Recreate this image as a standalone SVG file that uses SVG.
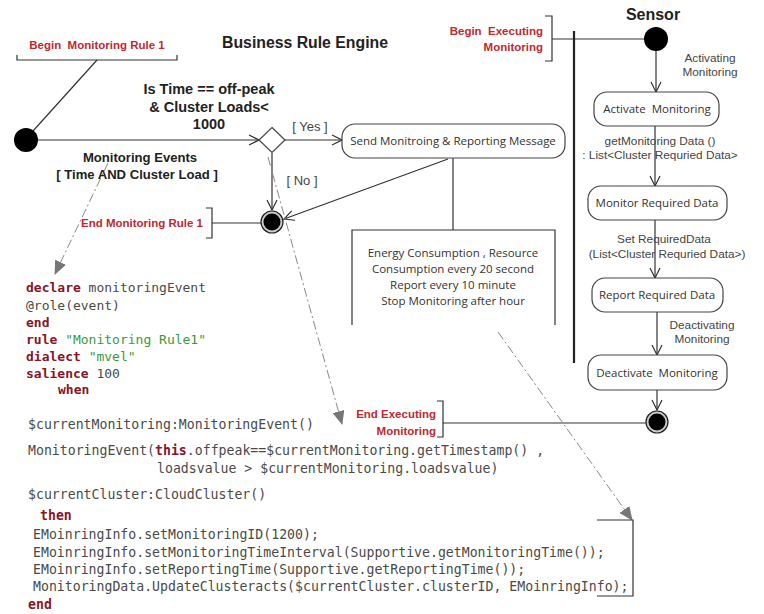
<svg xmlns="http://www.w3.org/2000/svg" width="764" height="614" viewBox="0 0 764 614">
<defs>
<marker id="vee" viewBox="0 0 12 12" refX="11" refY="6" markerWidth="12" markerHeight="12" markerUnits="userSpaceOnUse" orient="auto">
<path d="M1,1 L11,6 L1,11" fill="none" stroke="#333" stroke-width="1.2"/>
</marker>
<marker id="tri" viewBox="0 0 14 12" refX="13" refY="6" markerWidth="14" markerHeight="12" markerUnits="userSpaceOnUse" orient="auto">
<path d="M0,0 L14,6 L0,12 Z" fill="#777"/>
</marker>
</defs>
<style>
.ln{stroke:#333;stroke-width:1.2;fill:none}
.ar{stroke:#333;stroke-width:1.2;fill:none;marker-end:url(#vee)}
.dd{stroke:#888;stroke-width:1;fill:none;stroke-dasharray:9 3 2 3;marker-end:url(#tri)}
.box{fill:#fff;stroke:#444;stroke-width:1.2}
.red{font-family:"Liberation Sans",Arial,sans-serif;font-weight:bold;font-size:11.5px;fill:#c3272f;white-space:pre}
.bt{font-family:"Liberation Sans",Arial,sans-serif;font-weight:bold;font-size:14.5px;fill:#222;text-anchor:middle}
.gl{font-family:"Liberation Sans",Arial,sans-serif;font-size:11.8px;fill:#444;text-anchor:middle}
.nt{font-family:"Open Sans","Liberation Sans",sans-serif;font-size:11.5px;fill:#333;text-anchor:middle;white-space:pre}
.code{font-family:"DejaVu Sans Mono","Liberation Mono",monospace;font-size:13px;fill:#4a4a4a;white-space:pre}
.c2{font-size:13.2px}
.kw{fill:#86152a;font-weight:bold}
.str{fill:#3a9a3a}
</style>

<g id="titles">
<text class="bt" x="305" y="48" style="font-size:15.8px">Business Rule Engine</text>
<text class="bt" x="653" y="20" style="font-size:16px">Sensor</text>
</g>

<g id="connectors">
<path class="ln" d="M97,60 L33,131"/>
<path class="ar" d="M38,140 L259,140"/>
<path class="ar" d="M285,140 L342,140"/>
<path class="ar" d="M272,153 L272,210"/>
<path class="ar" d="M448,159 L284,219"/>
<path class="ln" d="M212,223 L261,223"/>
<path class="ln" d="M453,158 L453,230"/>
<path class="ln" d="M552,39 L645,39"/>
<path class="ar" d="M656,51 L656,92"/>
<path class="ar" d="M655,126 L655,186"/>
<path class="ar" d="M655,220 L655,278"/>
<path class="ar" d="M657,312 L657,355"/>
<path class="ar" d="M657,390 L657,410"/>
<path class="ln" d="M443,423 L646,423"/>
<path class="dd" d="M108,163 L55,274"/>
<path class="dd" d="M268,157 L342,424"/>
<path class="dd" d="M498,332 L632,520"/>
</g>

<g id="swimlane">
<line x1="574" y1="31" x2="574" y2="363" stroke="#222" stroke-width="2.2"/>
</g>

<g id="begin-rule">
<path class="ln" d="M17,55 L17,60 L177,60 L177,55"/>
<text class="red" x="97" y="49" text-anchor="middle">Begin  Monitoring Rule 1</text>
</g>

<g id="start-rule">
<circle cx="26" cy="140" r="12" fill="#000"/>
</g>

<g id="condition">
<text class="bt" x="209" y="94">Is Time == off-peak</text>
<text class="bt" x="209" y="112">&amp; Cluster Loads&lt;</text>
<text class="bt" x="209" y="129">1000</text>
</g>

<g id="events-label">
<text class="bt" x="140" y="162" style="font-size:13.1px">Monitoring Events</text>
<text class="bt" x="137" y="179" style="font-size:13.1px">[ Time AND Cluster Load ]</text>
</g>

<g id="decision">
<path d="M272,127.5 L285,140 L272,152.5 L259,140 Z" fill="#fff" stroke="#444" stroke-width="1.2"/>
<text class="gl" x="310" y="131" style="font-size:13px">[ Yes ]</text>
<text class="gl" x="302" y="185" style="font-size:13px">[ No ]</text>
</g>

<g id="send-message">
<rect class="box" x="342" y="124" width="223" height="34" rx="13"/>
<text class="nt" x="453" y="145">Send Monitroing &amp; Reporting Message</text>
</g>

<g id="note-energy">
<path class="ln" d="M352,325 L352,230 L555,230 L555,325"/>
<text class="nt" x="453" y="257">Energy Consumption , Resource</text>
<text class="nt" x="453" y="273">Consumption every 20 second</text>
<text class="nt" x="453" y="289">Report every 10 minute</text>
<text class="nt" x="453" y="305">Stop Monitoring after hour</text>
</g>

<g id="end-rule">
<circle cx="272" cy="222" r="11" fill="#ccc" stroke="#222" stroke-width="1.2"/>
<circle cx="272" cy="222" r="8.5" fill="#000"/>
<path class="ln" d="M206,208 L212,208 L212,238 L206,238"/>
<text class="red" x="203" y="227" text-anchor="end">End Monitoring Rule 1</text>
</g>

<g id="begin-exec">
<path class="ln" d="M545,16 L552,16 L552,61 L545,61"/>
<text class="red" x="543" y="35" text-anchor="end">Begin  Executing</text>
<text class="red" x="543" y="51" text-anchor="end">Monitoring</text>
<circle cx="656" cy="39" r="12" fill="#000"/>
<text class="gl" x="710" y="62">Activating</text>
<text class="gl" x="710" y="76">Monitoring</text>
</g>

<g id="activate">
<rect class="box" x="594" y="92" width="125" height="34" rx="13"/>
<text class="nt" x="657" y="113">Activate  Monitoring</text>
<text class="gl" x="660" y="145">getMonitoring Data ()</text>
<text class="gl" x="660" y="159">: List&lt;Cluster Requried Data&gt;</text>
</g>

<g id="monitor">
<rect class="box" x="588" y="186" width="139" height="34" rx="13"/>
<text class="nt" x="657" y="207">Monitor Required Data</text>
<text class="gl" x="664" y="243">Set RequiredData</text>
<text class="gl" x="667" y="258">(List&lt;Cluster Requried Data&gt;)</text>
</g>

<g id="report">
<rect class="box" x="592" y="278" width="131" height="34" rx="13"/>
<text class="nt" x="657" y="299">Report Required Data</text>
<text class="gl" x="702" y="329">Deactivating</text>
<text class="gl" x="702" y="343">Monitoring</text>
</g>

<g id="deactivate">
<rect class="box" x="588" y="355" width="139" height="35" rx="13"/>
<text class="nt" x="657" y="377">Deactivate  Monitoring</text>
</g>

<g id="end-exec">
<circle cx="657" cy="422" r="11" fill="#ccc" stroke="#222" stroke-width="1.2"/>
<circle cx="657" cy="422" r="8.5" fill="#000"/>
<path class="ln" d="M437,401 L443,401 L443,437 L437,437"/>
<text class="red" x="436" y="418" text-anchor="end">End Executing</text>
<text class="red" x="436" y="435" text-anchor="end">Monitoring</text>
</g>

<g id="code-declare">
<text class="code" x="26" y="292"><tspan class="kw">declare</tspan> monitoringEvent</text>
<text class="code" x="26" y="310">@role(event)</text>
<text class="code" x="26" y="327"><tspan class="kw">end</tspan></text>
<text class="code" x="26" y="344"><tspan class="kw">rule</tspan> <tspan class="str">"Monitoring Rule1"</tspan></text>
<text class="code" x="26" y="361"><tspan class="kw">dialect</tspan> <tspan class="str">"mvel"</tspan></text>
<text class="code" x="26" y="378"><tspan class="kw">salience</tspan> 100</text>
<text class="code" x="58" y="394"><tspan class="kw">when</tspan></text>
</g>

<g id="code-rule">
<text class="code c2" x="28" y="429">$currentMonitoring:MonitoringEvent()</text>
<text class="code c2" x="28" y="455">MonitoringEvent(<tspan class="kw">this</tspan>.offpeak==$currentMonitoring.getTimestamp() ,</text>
<text class="code c2" x="157" y="473">loadsvalue &gt; $currentMonitoring.loadsvalue)</text>
<text class="code c2" x="28" y="499">$currentCluster:CloudCluster()</text>
<text class="code c2" x="40" y="520"><tspan class="kw">then</tspan></text>
<text class="code c2" x="33" y="539">EMoinringInfo.setMonitoringID(1200);</text>
<text class="code c2" x="33" y="557">EMoinringInfo.setMonitoringTimeInterval(Supportive.getMonitoringTime());</text>
<text class="code c2" x="33" y="574">EMoinringInfo.setReportingTime(Supportive.getReportingTime());</text>
<text class="code c2" x="33" y="591">MonitoringData.UpdateClusteracts($currentCluster.clusterID, EMoinringInfo);</text>
<text class="code c2" x="28" y="609"><tspan class="kw">end</tspan></text>
<path class="ln" d="M597,520 L633,520 L633,596 L597,596"/>
</g>
</svg>
